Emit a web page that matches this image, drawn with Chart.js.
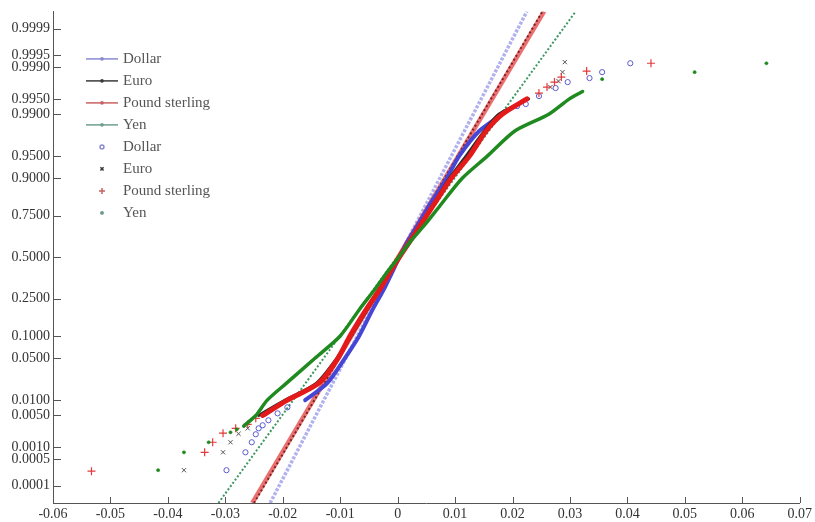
<!DOCTYPE html>
<html lang="en">
  <head>
    <meta charset="UTF-8" />
    <title>Normal probability plot</title>
    <script src="https://cdn.jsdelivr.net/npm/chart.js@4.4.1/dist/chart.umd.min.js"></script>
    <style>
      html, body { margin: 0; padding: 0; background: #fff; }
      #wrap { width: 815px; height: 522px; }
    </style>
  </head>
  <body>
    <div id="wrap"><canvas id="chart" width="815" height="522"></canvas></div>
    <script>
      // probability axis range (z = -4 .. +4) and its tick levels
      const pMin = 0.0000317;
      const pMax = 0.9999683;
      const probTicks = [0.0001, 0.0005, 0.001, 0.005, 0.01, 0.05, 0.1, 0.25, 0.5,
        0.75, 0.9, 0.95, 0.99, 0.995, 0.999, 0.9995, 0.9999];

      const names = ["Dollar", "Euro", "Pound sterling", "Yen"];

      // fitted normal lines: return at the bottom and at the top of the axis
      const fitLow = [-0.0222, -0.025, -0.0253, -0.0312];
      const fitHigh = [0.0225, 0.0252, 0.0255, 0.031];

      // dense middle part of each sample
      const dollarCoreP = [0.01, 0.02, 0.05, 0.1, 0.2, 0.3, 0.4, 0.5, 0.6, 0.7, 0.8, 0.9, 0.95, 0.98, 0.99];
      const dollarCoreX = [-0.0161, -0.0123, -0.0092, -0.0067, -0.0043, -0.0024, -0.001, 0.0003, 0.0017, 0.0035, 0.0055, 0.0085, 0.0107, 0.0142, 0.0182];
      const euroCoreP = [0.005, 0.01, 0.02, 0.05, 0.1, 0.2, 0.3, 0.4, 0.5, 0.6, 0.7, 0.8, 0.9, 0.95, 0.98, 0.99, 0.995];
      const euroCoreX = [-0.0242, -0.0196, -0.0142, -0.0106, -0.0081, -0.0052, -0.0031, -0.0014, 0.0003, 0.0021, 0.004, 0.0061, 0.009, 0.0119, 0.0151, 0.0176, 0.0228];
      const poundCoreP = [0.005, 0.01, 0.02, 0.05, 0.1, 0.2, 0.3, 0.4, 0.5, 0.6, 0.7, 0.8, 0.9, 0.95, 0.98, 0.99, 0.995];
      const poundCoreX = [-0.0235, -0.0192, -0.0138, -0.0104, -0.0083, -0.0054, -0.0031, -0.0014, 0.0003, 0.0021, 0.004, 0.0062, 0.0093, 0.0125, 0.0154, 0.0182, 0.0225];
      const yenCoreP = [0.003, 0.005, 0.01, 0.02, 0.05, 0.1, 0.2, 0.3, 0.4, 0.5, 0.6, 0.7, 0.8, 0.9, 0.95, 0.98, 0.99, 0.995, 0.9965];
      const yenCoreX = [-0.0268, -0.0247, -0.0227, -0.0194, -0.0144, -0.01, -0.0066, -0.004, -0.0019, 0.0002, 0.0022, 0.0047, 0.0074, 0.0112, 0.0156, 0.0204, 0.0263, 0.0299, 0.0322];

      // sparse tail observations
      const dollarTailP = [0.000264, 0.00075, 0.0013, 0.00198, 0.00268, 0.00312, 0.00398, 0.00553, 0.00728,
        0.99303, 0.99365, 0.99563, 0.99704, 0.99781, 0.99822, 0.9987, 0.9992];
      const dollarTailX = [-0.0298, -0.0265, -0.0254, -0.0247, -0.0242, -0.0235, -0.0225, -0.0209, -0.0192,
        0.0208, 0.0223, 0.0246, 0.0275, 0.0296, 0.0334, 0.0356, 0.0405];
      const euroTailP = [0.000264, 0.00075, 0.0013, 0.00203, 0.00268, 0.99718, 0.99792, 0.9987, 0.99925];
      const euroTailX = [-0.0372, -0.0304, -0.0291, -0.0277, -0.0261, 0.0266, 0.028, 0.0287, 0.0291];
      const poundTailP = [0.000249, 0.00075, 0.0013, 0.00209, 0.00268, 0.00327, 0.00437,
        0.99621, 0.99718, 0.99781, 0.99831, 0.99877, 0.9992];
      const poundTailX = [-0.0533, -0.0336, -0.0322, -0.0304, -0.0282, -0.0261, -0.0247,
        0.0246, 0.026, 0.0273, 0.0285, 0.0329, 0.0441];
      const yenTailP = [0.000264, 0.00075, 0.0013, 0.00219, 0.00255, 0.99812, 0.9987, 0.9992];
      const yenTailX = [-0.0417, -0.0372, -0.0329, -0.0291, -0.028, 0.0356, 0.0517, 0.0642];

      const colors = ["#4646d6", "#2b2b2b", "#e41a1a", "#1f8a1f"];

      // standard normal helpers for the probability scale
      function normCdf(z) {
        const t = 1 / (1 + 0.3275911 * Math.abs(z) / Math.SQRT2);
        const y = 1 - (((((1.061405429 * t - 1.453152027) * t) + 1.421413741) * t - 0.284496736) * t + 0.254829592) * t * Math.exp(-z * z / 2);
        return z >= 0 ? 0.5 * (1 + y) : 0.5 * (1 - y);
      }
      function probit(p) {
        const a = [-39.6968302866538, 220.946098424521, -275.928510446969, 138.357751867269, -30.6647980661472, 2.50662827745924];
        const b = [-54.4760987982241, 161.585836858041, -155.698979859887, 66.8013118877197, -13.2806815528857];
        const c = [-0.00778489400243029, -0.322396458041136, -2.40075827716184, -2.54973253934373, 4.37466414146497, 2.93816398269878];
        const d = [0.00778469570904146, 0.32246712907004, 2.445134137143, 3.75440866190742];
        const lo = 0.02425;
        let q, r;
        if (p < lo) {
          q = Math.sqrt(-2 * Math.log(p));
          return (((((c[0] * q + c[1]) * q + c[2]) * q + c[3]) * q + c[4]) * q + c[5]) / ((((d[0] * q + d[1]) * q + d[2]) * q + d[3]) * q + 1);
        }
        if (p > 1 - lo) {
          q = Math.sqrt(-2 * Math.log(1 - p));
          return -(((((c[0] * q + c[1]) * q + c[2]) * q + c[3]) * q + c[4]) * q + c[5]) / ((((d[0] * q + d[1]) * q + d[2]) * q + d[3]) * q + 1);
        }
        q = p - 0.5;
        r = q * q;
        return (((((a[0] * r + a[1]) * r + a[2]) * r + a[3]) * r + a[4]) * r + a[5]) * q / (((((b[0] * r + b[1]) * r + b[2]) * r + b[3]) * r + b[4]) * r + 1);
      }

      class ProbitScale extends Chart.Scale {
        determineDataLimits() {
          this.min = this.options.min;
          this.max = this.options.max;
        }
        buildTicks() {
          return probTicks.map((v) => ({ value: v }));
        }
        getLabelForValue(v) {
          return v.toFixed(4);
        }
        configure() {
          super.configure();
          this._zStart = probit(this.min);
          this._zRange = probit(this.max) - this._zStart;
        }
        getPixelForValue(v) {
          return this.getPixelForDecimal((probit(v) - this._zStart) / this._zRange);
        }
        getValueForPixel(px) {
          return normCdf(this._zStart + this.getDecimalForPixel(px) * this._zRange);
        }
      }
      ProbitScale.id = "probit";
      ProbitScale.defaults = {};
      Chart.register(ProbitScale);

      const pts = (xs, ps) => xs.map((x, i) => ({ x: x, y: ps[i] }));

      const fitStyles = [
        { borderColor: "rgba(100,100,225,0.5)", borderWidth: 3.5, borderDash: [3, 1.5], order: 12 },
        { borderColor: "rgba(90,15,15,0.8)", borderWidth: 2, borderDash: [2, 2.5], order: 10 },
        { borderColor: "rgba(228,50,50,0.7)", borderWidth: 4.5, borderDash: [], order: 11 },
        { borderColor: "rgba(40,140,80,0.9)", borderWidth: 2, borderDash: [2, 2], order: 13 },
      ];
      const legendLineColors = ["#8a8ad2", "#3a3a3a", "#c86262", "#6f9f8c"];
      const coreWidths = [4, 3, 5, 3.5];
      const corePs = [dollarCoreP, euroCoreP, poundCoreP, yenCoreP];
      const coreXs = [dollarCoreX, euroCoreX, poundCoreX, yenCoreX];
      const tailPs = [dollarTailP, euroTailP, poundTailP, yenTailP];
      const tailXs = [dollarTailX, euroTailX, poundTailX, yenTailX];
      const markerStyles = [
        { pointStyle: "circle", pointRadius: 2.6, pointBorderWidth: 1, fill: "rgba(0,0,0,0)" },
        { pointStyle: "crossRot", pointRadius: 3, pointBorderWidth: 1, fill: "rgba(0,0,0,0)" },
        { pointStyle: "cross", pointRadius: 4, pointBorderWidth: 1.2, fill: "rgba(0,0,0,0)" },
        { pointStyle: "circle", pointRadius: 1.6, pointBorderWidth: 0.5, fill: colors[3] },
      ];
      const tailColors = ["#5a5ad0", "#555555", "#e23a3a", "#1f8a1f"];

      const datasets = [];
      names.forEach((name, i) => {
        datasets.push({
          label: name,
          data: [{ x: fitLow[i], y: pMin }, { x: fitHigh[i], y: pMax }],
          showLine: true,
          pointRadius: 0,
          borderColor: fitStyles[i].borderColor,
          borderWidth: fitStyles[i].borderWidth,
          borderDash: fitStyles[i].borderDash,
          order: fitStyles[i].order,
        });
        datasets.push({
          label: name,
          data: pts(coreXs[i], corePs[i]),
          showLine: true,
          pointRadius: 0,
          borderColor: colors[i],
          borderWidth: coreWidths[i],
          borderJoinStyle: "round",
          borderCapStyle: "round",
          tension: 0.25,
          order: 4 - i,
        });
        datasets.push({
          label: name,
          data: pts(tailXs[i], tailPs[i]),
          showLine: false,
          pointStyle: markerStyles[i].pointStyle,
          pointRadius: markerStyles[i].pointRadius,
          pointBorderWidth: markerStyles[i].pointBorderWidth,
          pointBorderColor: tailColors[i],
          pointBackgroundColor: markerStyles[i].fill,
          order: 4 - i,
        });
      });

      // tick marks drawn inward from both axes
      const innerTicks = {
        id: "innerTicks",
        afterDraw(chart) {
          const { ctx, chartArea } = chart;
          const xs = chart.scales.x;
          const ys = chart.scales.y;
          ctx.save();
          ctx.strokeStyle = "#555";
          ctx.lineWidth = 1;
          ctx.beginPath();
          xs.ticks.forEach((t, i) => {
            const px = Math.round(xs.getPixelForTick(i)) + 0.5;
            ctx.moveTo(px, chartArea.bottom);
            ctx.lineTo(px, chartArea.bottom - 6);
          });
          ys.ticks.forEach((t, i) => {
            const py = Math.round(ys.getPixelForTick(i)) + 0.5;
            ctx.moveTo(chartArea.left, py);
            ctx.lineTo(chartArea.left + 8, py);
          });
          ctx.stroke();
          ctx.restore();
        },
      };

      // legend: four line entries followed by four marker entries
      const plotLegend = {
        id: "plotLegend",
        afterDraw(chart) {
          const { ctx, chartArea } = chart;
          const x0 = chartArea.left + 33;
          const y0 = chartArea.top + 47.5;
          const step = 22;
          ctx.save();
          ctx.font = "15px 'Liberation Serif'";
          ctx.textBaseline = "middle";
          names.forEach((name, i) => {
            const y = y0 + i * step;
            ctx.strokeStyle = legendLineColors[i];
            ctx.lineWidth = 1.5;
            ctx.beginPath();
            ctx.moveTo(x0, y);
            ctx.lineTo(x0 + 32, y);
            ctx.stroke();
            ctx.fillStyle = legendLineColors[i];
            ctx.beginPath();
            ctx.arc(x0 + 16, y, 1.8, 0, Math.PI * 2);
            ctx.fill();
            ctx.fillStyle = "#555";
            ctx.fillText(name, x0 + 37, y);
          });
          names.forEach((name, i) => {
            const y = y0 + (i + 4) * step;
            ctx.strokeStyle = legendLineColors[i];
            ctx.fillStyle = markerStyles[i].fill;
            Chart.helpers.drawPoint(ctx, {
              pointStyle: markerStyles[i].pointStyle,
              radius: markerStyles[i].pointRadius * 0.75,
              borderWidth: 1,
              rotation: 0,
            }, x0 + 16, y);
            ctx.fillStyle = "#555";
            ctx.fillText(name, x0 + 37, y);
          });
          ctx.restore();
        },
      };

      const tickFont = { family: "'Liberation Serif'", size: 14 };

      new Chart(document.getElementById("chart").getContext("2d"), {
        type: "scatter",
        data: { datasets: datasets },
        options: {
          responsive: false,
          animation: false,
          layout: { padding: { top: 10, right: 12, left: 0, bottom: 0 } },
          plugins: { legend: { display: false }, tooltip: { enabled: false } },
          scales: {
            x: {
              type: "linear",
              min: -0.06,
              max: 0.07,
              grid: { display: false, drawTicks: false },
              border: { display: true, color: "#555" },
              ticks: {
                stepSize: 0.01,
                autoSkip: false,
                maxRotation: 0,
                padding: 3,
                color: "#333",
                font: tickFont,
                callback: (v) => (Math.abs(v) < 1e-9 ? "0" : v.toFixed(2)),
              },
              afterFit: (s) => { s.height = 19; },
            },
            y: {
              type: "probit",
              position: "left",
              min: pMin,
              max: pMax,
              grid: { display: false, drawTicks: false },
              border: { display: true, color: "#555" },
              ticks: {
                autoSkip: false,
                padding: 3,
                color: "#333",
                font: tickFont,
                callback: (v) => v.toFixed(4),
              },
              afterFit: (s) => { s.width = 53; },
            },
          },
        },
        plugins: [innerTicks, plotLegend],
      });
    </script>
  </body>
</html>
